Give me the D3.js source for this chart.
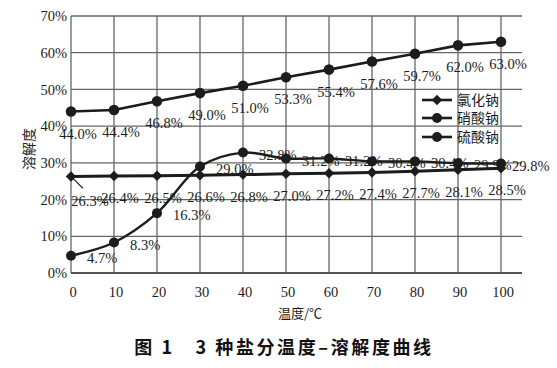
<!DOCTYPE html>
<html><head><meta charset="utf-8">
<script src="https://cdn.jsdelivr.net/npm/d3@7/dist/d3.min.js"></script>
<style>body{margin:0;background:#fff}svg{display:block}</style>
</head><body>
<svg id="c" width="557" height="368"></svg>
<script>
const temps = [0,10,20,30,40,50,60,70,80,90,100];
const naclValues = [26.3,26.4,26.5,26.6,26.8,27.0,27.2,27.4,27.7,28.1,28.5];
const nano3Values = [44.0,44.4,46.8,49.0,51.0,53.3,55.4,57.6,59.7,62.0,63.0];
const na2so4Values = [4.7,8.3,16.3,29.0,32.8,31.2,31.2,30.4,30.4,29.9,29.8];
const seriesNames = ["氯化钠","硝酸钠","硫酸钠"];
const yTickValues = [0,10,20,30,40,50,60,70];
const xTickLabels = ["0","10","20","30","40","50","60","70","80","90","100"];
const xTitle = "温度/℃";
const yTitle = "溶解度";
const chartTitle = "图 1　3 种盐分温度–溶解度曲线";

const svg = d3.select("#c");
const x = d3.scaleLinear().domain([0,100]).range([71,501]);
const y = d3.scaleLinear().domain([0,70]).range([273,16]);
const gridRight = 522;
const ink = "#1c1c1c";
const serif = "'Liberation Serif','Times New Roman',serif";
const cjk = "'Noto Sans CJK SC','Noto Sans CJK JP',sans-serif";

// horizontal grid
svg.append("g").selectAll("line").data(yTickValues.filter(v=>v>0)).join("line")
  .attr("x1", x(0)).attr("x2", gridRight)
  .attr("y1", d=>y(d)).attr("y2", d=>y(d))
  .attr("stroke","#666").attr("stroke-width",1.3);
// vertical grid
svg.append("g").selectAll("line").data(temps).join("line")
  .attr("x1", d=>x(d)).attr("x2", d=>x(d))
  .attr("y1", y(70)).attr("y2", y(0))
  .attr("stroke","#666").attr("stroke-width",1.3);
// bottom axis line
svg.append("line").attr("x1",x(0)).attr("x2",gridRight)
  .attr("y1",y(0)).attr("y2",y(0)).attr("stroke","#555").attr("stroke-width",2);

// y tick labels
svg.append("g").selectAll("text").data(yTickValues).join("text")
  .attr("x", 67).attr("y", d=>y(d)).attr("dy","0.35em")
  .attr("text-anchor","end").attr("font-family",serif).attr("font-size",14.5)
  .attr("fill",ink).text(d=>d+"%");
// x tick labels
svg.append("g").selectAll("text").data(temps).join("text")
  .attr("x", d=>x(d)+2).attr("y", 292).attr("dy","0.35em")
  .attr("text-anchor","middle").attr("font-family",serif).attr("font-size",14.5)
  .attr("fill",ink).text((d,i)=>xTickLabels[i]);
// axis titles
svg.append("text").attr("x",300).attr("y",313).attr("dy","0.35em")
  .attr("text-anchor","middle").attr("font-family",cjk).attr("font-size",13)
  .attr("fill",ink).text(xTitle);
svg.append("text").attr("transform","translate(29,149) rotate(-90)")
  .attr("dy","0.35em").attr("text-anchor","middle").attr("font-family",cjk)
  .attr("font-size",14).attr("fill",ink).text(yTitle);

// lines
const lineStraight = d3.line().x((d,i)=>x(temps[i])).y(d=>y(d));
const lineSmooth = d3.line().x((d,i)=>x(temps[i])).y(d=>y(d)).curve(d3.curveCatmullRom.alpha(0.5));

svg.append("path").datum(nano3Values).attr("d",lineStraight)
  .attr("fill","none").attr("stroke",ink).attr("stroke-width",2.6);
svg.append("path").datum(na2so4Values).attr("d",lineSmooth)
  .attr("fill","none").attr("stroke",ink).attr("stroke-width",2.4);
svg.append("path").datum(naclValues).attr("d",lineStraight)
  .attr("fill","none").attr("stroke",ink).attr("stroke-width",3);

const diamond = d3.symbol().type(d3.symbolDiamond2).size(70);
// markers
svg.append("g").selectAll("circle").data(nano3Values).join("circle")
  .attr("cx",(d,i)=>x(temps[i])).attr("cy",d=>y(d)).attr("r",5.3).attr("fill",ink);
svg.append("g").selectAll("circle").data(na2so4Values).join("circle")
  .attr("cx",(d,i)=>x(temps[i])).attr("cy",d=>y(d)).attr("r",5).attr("fill",ink);
svg.append("g").selectAll("path").data(naclValues).join("path")
  .attr("d",diamond).attr("transform",(d,i)=>`translate(${x(temps[i])},${y(d)})`)
  .attr("fill",ink);

// data labels
const fmt = v => v.toFixed(1)+"%";
svg.append("g").selectAll("text").data(nano3Values).join("text")
  .attr("x",(d,i)=>x(temps[i])+7).attr("y",d=>y(d)+22).attr("dy","0.35em")
  .attr("text-anchor","middle").attr("font-family",serif).attr("font-size",14.5)
  .attr("fill",ink).text(fmt);
svg.append("g").selectAll("text").data(naclValues).join("text")
  .attr("x",(d,i)=> i===0 ? x(temps[i])+19 : x(temps[i])+6)
  .attr("y",(d,i)=> i===0 ? y(d)+24 : y(d)+22).attr("dy","0.35em")
  .attr("text-anchor","middle").attr("font-family",serif).attr("font-size",14.5)
  .attr("fill",ink).text(fmt);
// leader line for first NaCl label
svg.append("line").attr("x1",x(temps[0])+2).attr("y1",y(naclValues[0])+2)
  .attr("x2",x(temps[0])+12).attr("y2",y(naclValues[0])+12)
  .attr("stroke",ink).attr("stroke-width",1.2);
svg.append("g").selectAll("text").data(na2so4Values).join("text")
  .attr("x",(d,i)=>x(temps[i])+(i===temps.length-1?11:16)).attr("y",d=>y(d)+2).attr("dy","0.35em")
  .attr("text-anchor","start").attr("font-family",serif).attr("font-size",14.5)
  .attr("fill",ink).text(fmt);

// legend
const legendY = [100,118,137];
const lg = svg.append("g");
seriesNames.forEach((name,i)=>{
  lg.append("line").attr("x1",422).attr("x2",452).attr("y1",legendY[i]).attr("y2",legendY[i])
    .attr("stroke",ink).attr("stroke-width",2.6);
  if(i===0){
    lg.append("path").attr("d",diamond).attr("transform",`translate(437,${legendY[i]})`).attr("fill",ink);
  } else {
    lg.append("circle").attr("cx",437).attr("cy",legendY[i]).attr("r",5).attr("fill",ink);
  }
  lg.append("text").attr("x",457).attr("y",legendY[i]).attr("dy","0.35em")
    .attr("font-family",cjk).attr("font-size",14).attr("fill",ink).text(name);
});

// title
svg.append("text").attr("x",284).attr("y",348).attr("dy","0.35em")
  .attr("text-anchor","middle").attr("font-family",cjk).attr("font-weight","bold")
  .attr("font-size",18).attr("letter-spacing",2.6).attr("fill","#111").text(chartTitle);
</script>
</body></html>
